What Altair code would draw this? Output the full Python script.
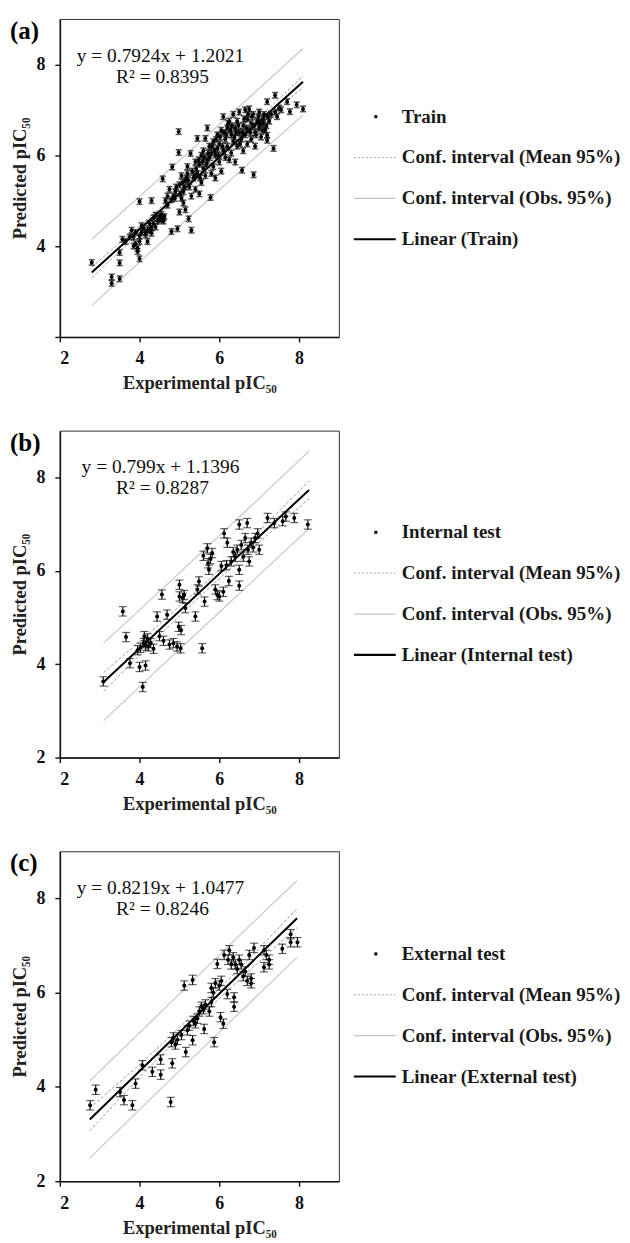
import altair as alt
import pandas as pd

FONT = "Liberation Serif"

panel_tags = ["(a)", "(b)", "(c)"]
set_names = ["Train", "Internal test", "External test"]
equations = ["y = 0.7924x + 1.2021", "y = 0.799x + 1.1396", "y = 0.8219x + 1.0477"]
r2_texts = ["R² = 0.8395", "R² = 0.8287", "R² = 0.8246"]
legend_labels = ["Conf. interval (Mean 95%)", "Conf. interval (Obs. 95%)"]

train_x = [2.8, 3.3, 3.3, 3.5, 3.5, 3.5, 3.57, 3.65, 3.75, 3.8, 3.85, 3.9, 3.95, 3.95, 4.0, 4.0, 4.0,
           4.05, 4.1, 4.15, 4.2, 4.2, 4.25, 4.3, 4.3, 4.35, 4.4, 4.45, 4.5, 4.55, 4.6, 4.58, 4.65, 4.7,
           4.75, 4.8, 4.8, 4.82, 4.85, 4.9, 4.95, 4.98, 4.98, 5.0, 5.0, 5.05, 5.05, 5.1, 5.1, 5.15, 5.15,
           5.2, 5.2, 5.23, 5.25, 5.28, 5.3, 5.3, 5.35, 5.4, 5.4, 5.45, 5.45, 5.5, 5.5, 5.55, 5.55, 5.6,
           5.6, 5.65, 5.65, 5.7, 5.7, 5.75, 5.78, 5.8, 5.8, 5.85, 5.85, 5.9, 5.9, 5.95, 5.95, 6.0, 6.0,
           6.05, 6.05, 6.1, 6.1, 6.15, 6.15, 6.2, 6.2, 6.25, 6.25, 6.3, 6.3, 6.35, 6.35, 6.4, 6.4, 6.45,
           6.45, 6.5, 6.5, 6.55, 6.57, 6.6, 6.6, 6.65, 6.65, 6.7, 6.7, 6.75, 6.75, 6.8, 6.8, 6.86, 6.85,
           6.9, 6.9, 6.95, 7.0, 7.0, 7.05, 7.1, 7.1, 7.15, 7.2, 7.2, 7.2, 7.25, 7.3, 7.36, 7.4, 7.4, 7.45,
           7.5, 7.55, 7.7, 7.77, 7.94, 8.1,
           3.85, 3.9, 4.0, 4.05, 4.15, 4.25, 4.3, 4.35, 4.4, 4.5, 4.55, 4.6, 4.62, 4.7, 4.88, 4.92, 5.02,
           5.08, 5.12, 5.18, 5.22, 5.32, 5.38, 5.42, 5.48, 5.52, 5.58, 5.62, 5.68, 5.72, 5.76, 5.82, 5.88,
           5.92, 5.98, 6.02, 6.08, 6.12, 6.18, 6.22, 6.28, 6.32, 6.38, 6.42, 6.48, 6.52, 6.58, 6.62, 6.68,
           6.72, 6.78, 6.82, 6.88, 6.92, 6.98, 7.02, 7.08, 7.12, 7.18, 7.22]
train_y = [3.64, 3.32, 3.18, 3.28, 3.63, 3.86, 4.15, 4.1, 4.2, 4.35, 4.0, 4.05, 3.95, 3.88, 4.1, 3.72, 4.98,
           4.3, 4.4, 4.3, 4.35, 4.1, 4.5, 4.28, 5.0, 4.62, 4.68, 4.55, 4.6, 4.58, 4.62, 5.48, 5.0, 5.1,
           5.25, 4.32, 5.02, 5.74, 5.1, 5.2, 4.38, 6.52, 6.06, 5.35, 4.75, 5.05, 5.55, 5.2, 4.95, 5.45, 4.8,
           5.6, 5.75, 4.6, 5.3, 6.04, 4.35, 5.1, 5.5, 5.85, 5.25, 6.37, 5.6, 5.15, 5.8, 6.0, 5.4, 5.7,
           6.1, 6.37, 5.55, 6.6, 5.9, 6.2, 5.07, 5.6, 6.05, 6.3, 5.75, 6.0, 5.5, 6.15, 6.45, 5.85, 6.25,
           5.65, 6.55, 6.1, 6.85, 6.35, 5.95, 6.6, 6.2, 6.75, 5.9, 6.45, 6.05, 6.9, 6.3, 6.6, 5.85, 6.2,
           6.75, 6.5, 6.95, 6.35, 5.67, 6.65, 6.1, 7.0, 6.45, 6.8, 6.25, 6.55, 7.02, 6.35, 6.7, 5.57, 6.9,
           6.5, 6.2, 6.75, 6.6, 6.95, 6.4, 6.8, 6.7, 6.55, 7.18, 6.44, 6.33, 6.75, 6.9, 6.15, 7.32, 6.95, 6.85,
           7.04, 7.0, 7.18, 6.96, 7.11, 7.02,
           4.2, 4.3, 4.22, 4.45, 4.25, 4.35, 4.4, 4.5, 4.42, 4.65, 4.7, 4.55, 4.65, 4.9, 5.05, 5.3, 5.15,
           5.4, 5.3, 5.5, 5.45, 5.65, 5.55, 5.7, 5.9, 5.5, 5.85, 5.95, 5.8, 6.05, 5.95, 6.2, 6.1,
           6.35, 6.0, 6.4, 6.2, 6.5, 6.45, 6.7, 6.55, 6.65, 6.4, 6.5, 6.65, 6.25, 6.5, 6.8, 6.6,
           6.9, 6.5, 6.85, 6.65, 6.45, 6.85, 6.7, 6.55, 6.9, 6.65, 6.85]

internal_x = [3.09, 3.58, 3.66, 3.76, 3.95, 4.0, 4.02, 4.08, 4.1, 4.12, 4.15, 4.15, 4.2, 4.22, 4.28, 4.35,
              4.44, 4.5, 4.56, 4.6, 4.69, 4.75, 4.85, 4.94, 4.98, 5.0, 5.0, 5.03, 5.04, 5.08, 5.12, 5.15,
              5.4, 5.45, 5.49, 5.57, 5.63, 5.6, 5.7, 5.72, 5.74, 5.78, 5.82, 5.9, 5.95, 6.0, 6.05, 6.1,
              6.12, 6.18, 6.2, 6.24, 6.3, 6.35, 6.4, 6.45, 6.5, 6.5, 6.5, 6.55, 6.6, 6.65, 6.7, 6.72,
              6.75, 6.8, 6.85, 6.9, 6.96, 7.0, 7.21, 7.38, 7.59, 7.67, 7.88, 8.22]
internal_y = [3.63, 5.13, 4.58, 4.02, 4.3, 3.94, 4.35, 3.51, 4.45, 4.6, 3.97, 4.4, 4.55, 4.38, 4.45, 4.33,
              5.02, 4.6, 5.49, 4.5, 5.06, 4.42, 4.45, 4.38, 4.8, 5.7, 5.45, 4.34, 4.73, 5.42, 5.48, 5.2,
              5.02, 5.6, 5.77, 4.34, 5.34, 6.32, 6.48, 6.16, 6.02, 6.25, 6.38, 5.6, 5.48, 5.45, 6.1, 5.55,
              6.8, 6.12, 6.6, 5.78, 6.2, 6.4, 6.3, 6.45, 6.02, 5.68, 6.99, 6.55, 6.3, 6.7, 7.02, 6.45,
              6.2, 6.6, 6.5, 6.7, 6.8, 6.45, 7.13, 7.02, 7.06, 7.16, 7.13, 6.99]

external_x = [2.76, 2.9, 3.51, 3.61, 3.82, 3.9, 4.07, 4.32, 4.53, 4.53, 4.78, 4.82, 4.8, 4.85, 4.9, 4.95,
              5.05, 5.12, 5.16, 5.2, 5.25, 5.33, 5.33, 5.35, 5.4, 5.45, 5.5, 5.55, 5.6, 5.62, 5.65, 5.75,
              5.8, 5.8, 5.85, 5.87, 5.9, 5.95, 6.0, 6.03, 6.05, 6.1, 6.12, 6.2, 6.22, 6.25, 6.3, 6.35,
              6.37, 6.37, 6.4, 6.45, 6.5, 6.55, 6.6, 6.65, 6.7, 6.75, 6.8, 6.8, 6.87, 7.12, 7.12, 7.18,
              7.25, 7.25, 7.58, 7.79, 7.79, 7.96]
external_y = [3.61, 3.94, 3.89, 3.72, 3.61, 4.07, 4.46, 4.32, 4.26, 4.58, 3.68, 4.5, 4.95, 5.05, 4.9, 5.0,
              5.1, 6.15, 4.74, 5.2, 5.3, 6.27, 4.99, 5.4, 5.35, 5.45, 5.6, 5.7, 5.65, 5.23, 5.75, 5.6,
              5.8, 6.1, 6.0, 4.95, 6.2, 6.61, 6.15, 5.48, 6.25, 5.34, 6.8, 5.97, 6.7, 6.9, 6.6, 6.75,
              5.9, 5.7, 6.6, 6.5, 6.7, 6.6, 6.35, 6.45, 6.25, 6.8, 6.2, 6.3, 6.95, 6.9, 6.54, 6.8,
              6.7, 6.6, 6.93, 7.24, 7.07, 7.07]

# regression lines (end points) and confidence bands
lin_x = [[2.8, 8.1], [3.1, 8.25], [2.75, 7.95]]
lin_y = [[3.42, 7.62], [3.62, 7.73], [3.31, 7.58]]
ci_x = [[2.8, 4.1, 5.45, 6.8, 8.1], [3.1, 4.4, 5.7, 7.0, 8.25], [2.75, 4.05, 5.35, 6.65, 7.95]]
mean_up = [[3.54, 4.52, 5.57, 6.66, 7.74], [3.82, 4.78, 5.78, 6.85, 7.92], [3.55, 4.51, 5.54, 6.63, 7.78]]
mean_lo = [[3.30, 4.38, 5.47, 6.52, 7.50], [3.42, 4.54, 5.60, 6.61, 7.54], [3.07, 4.25, 5.36, 6.39, 7.38]]
obs_up = [[4.15, 5.17, 6.24, 7.31, 8.35], [4.45, 5.48, 6.51, 7.55, 8.56], [4.13, 5.19, 6.26, 7.33, 8.38]]
obs_lo = [[2.69, 3.73, 4.80, 5.87, 6.89], [2.79, 3.84, 4.87, 5.91, 6.90], [2.49, 3.56, 4.63, 5.69, 6.75]]

points = [(train_x, train_y), (internal_x, internal_y), (external_x, external_y)]

HEIGHTS = [319, 328, 331]
WIDTH = 280
ERR = [0.06, 0.1, 0.1]
CAP = [6, 8, 8]
CAP_W = [1.6, 1.1, 1.1]
DOT = [16, 16, 16]
LEG_TOP = [98, 102, 103]


def make_row(i):
    px, py = points[i]
    pts = pd.DataFrame({"x": px, "y": py})
    pts["lo"] = pts["y"] - ERR[i]
    pts["hi"] = pts["y"] + ERR[i]

    xs = alt.Scale(domain=[2, 9], nice=False, zero=False)
    ys = alt.Scale(domain=[2, 9], nice=False, zero=False)
    if i == 0:
        yaxis = alt.Axis(values=[2, 4, 6, 8], title="Predicted pIC₅₀",
                         labelExpr="datum.value == 2 ? '' : datum.label")
    else:
        yaxis = alt.Axis(values=[2, 4, 6, 8], title="Predicted pIC₅₀")
    X = alt.X("x:Q", scale=xs, axis=alt.Axis(values=[2, 4, 6, 8], title="Experimental pIC₅₀"))

    def Yf(field):
        return alt.Y(field, scale=ys, axis=yaxis)

    def band(vals):
        return pd.DataFrame({"x": ci_x[i], "y": vals})

    obs_layers = [
        alt.Chart(band(v)).mark_line(color="#c4c4c4", strokeWidth=1.1).encode(x=X, y=Yf("y:Q"))
        for v in (obs_up[i], obs_lo[i])
    ]
    mean_layers = [
        alt.Chart(band(v)).mark_line(color="#9a9a9a", strokeWidth=1, strokeDash=[3, 2]).encode(
            x=X, y=Yf("y:Q"))
        for v in (mean_up[i], mean_lo[i])
    ]
    bars = alt.Chart(pts).mark_rule(color="#111", strokeWidth=1.2).encode(
        x=X, y=Yf("lo:Q"), y2="hi:Q")
    cap_lo = alt.Chart(pts).mark_tick(color="#111", orient="horizontal", size=CAP[i],
                                      thickness=CAP_W[i]).encode(x=X, y=Yf("lo:Q"))
    cap_hi = alt.Chart(pts).mark_tick(color="#111", orient="horizontal", size=CAP[i],
                                      thickness=CAP_W[i]).encode(x=X, y=Yf("hi:Q"))
    dots = alt.Chart(pts).mark_point(filled=True, color="#000", size=DOT[i], opacity=1).encode(
        x=X, y=Yf("y:Q"))
    lin = alt.Chart(pd.DataFrame({"x": lin_x[i], "y": lin_y[i]})).mark_line(
        color="#000", strokeWidth=2).encode(x=X, y=Yf("y:Q"))

    tag = alt.Chart(pd.DataFrame({"t": [panel_tags[i]]})).mark_text(
        align="left", baseline="middle", font=FONT, fontSize=25, fontWeight="bold", color="#000"
    ).encode(x=alt.value(-50), y=alt.value(12), text="t:N")
    eq = alt.Chart(pd.DataFrame({"t": [equations[i]]})).mark_text(
        align="center", baseline="middle", font=FONT, fontSize=19.5, color="#111"
    ).encode(x=alt.value(101), y=alt.value(37), text="t:N")
    r2 = alt.Chart(pd.DataFrame({"t": [r2_texts[i]]})).mark_text(
        align="center", baseline="middle", font=FONT, fontSize=19.5, color="#111"
    ).encode(x=alt.value(103), y=alt.value(58), text="t:N")

    plot = alt.layer(*obs_layers, *mean_layers, bars, cap_lo, cap_hi, dots, lin, tag, eq, r2).properties(
        width=WIDTH, height=HEIGHTS[i])

    labels = [set_names[i], legend_labels[0], legend_labels[1], f"Linear ({set_names[i]})"]
    leg = pd.DataFrame({"idx": [0, 1, 2, 3], "label": labels})
    LY = alt.Y("idx:Q", scale=alt.Scale(domain=[0, 3], range=[LEG_TOP[i], LEG_TOP[i] + 123]), axis=None)
    txt = alt.Chart(leg).mark_text(align="left", baseline="middle", font=FONT, fontSize=19,
                                   fontWeight="bold", color="#1a1a1a").encode(
        x=alt.value(51), y=LY, text="label:N")
    dot = alt.Chart(leg).transform_filter("datum.idx == 0").mark_square(
        color="#000", size=9, opacity=1).encode(x=alt.value(25), y=LY)
    s_mean = alt.Chart(leg).transform_filter("datum.idx == 1").mark_rule(
        color="#a8a8a8", strokeWidth=1, strokeDash=[2, 2]).encode(x=alt.value(3), x2=alt.value(45), y=LY)
    s_obs = alt.Chart(leg).transform_filter("datum.idx == 2").mark_rule(
        color="#c4c4c4", strokeWidth=1.2).encode(x=alt.value(3), x2=alt.value(45), y=LY)
    s_lin = alt.Chart(leg).transform_filter("datum.idx == 3").mark_rule(
        color="#000", strokeWidth=2.2).encode(x=alt.value(3), x2=alt.value(45), y=LY)
    legend = alt.layer(txt, dot, s_mean, s_obs, s_lin).properties(
        width=262, height=HEIGHTS[i], view=alt.ViewBackground(stroke="transparent"))

    return alt.hconcat(plot, legend, spacing=10)


chart = alt.vconcat(*[make_row(i) for i in range(3)], spacing=37).properties(
    padding={"top": 8, "left": 1, "right": 0, "bottom": 0}
).configure_view(stroke="#333", strokeWidth=1).configure_axis(
    grid=False, domainColor="#111", domainWidth=1.6, tickColor="#111", tickWidth=1.4, tickSize=5,
    labelFont=FONT, labelFontSize=18, labelFontWeight="bold", labelColor="#111",
    titleFont=FONT, titleFontSize=18.5, titleFontWeight="bold", titleColor="#222",
).configure_axisY(titlePadding=6, labelPadding=10).configure_axisX(titlePadding=6, labelPadding=8)

chart.save("out.html", embed_options={"renderer": "svg", "actions": False})
